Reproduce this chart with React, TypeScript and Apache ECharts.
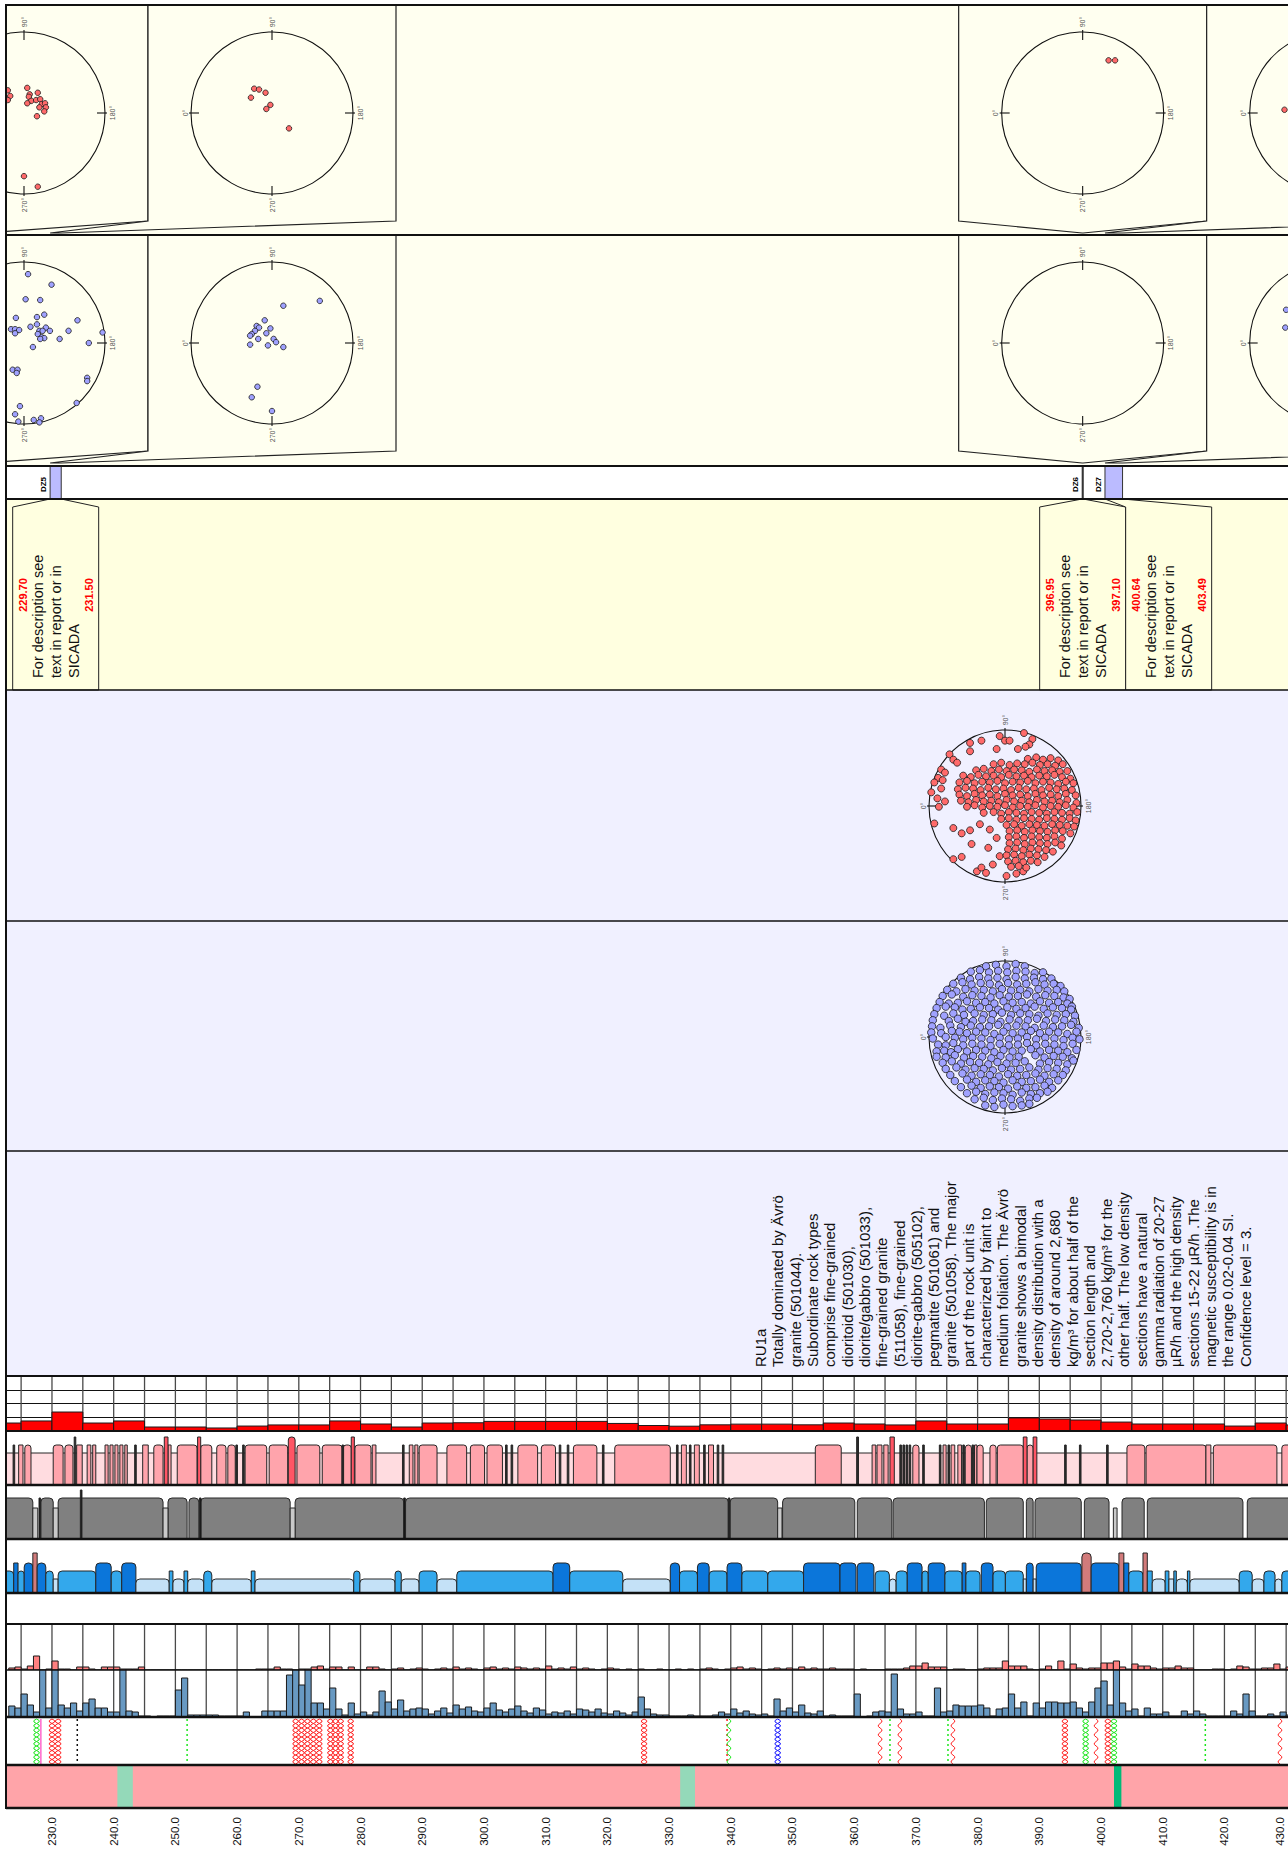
import React, { useEffect, useRef } from "react";
import * as echarts from "echarts";

const FONT = "'Liberation Sans', Arial, Helvetica, sans-serif";

// ---------------- depth axis (visible window) ----------------
const DEPTH_MIN = 222.55;
const DEPTH_MAX = 430.3;
const depthGridLines = [225, 230, 235, 240, 245, 250, 255, 260, 265, 270, 275, 280, 285, 290, 295, 300, 305, 310, 315, 320, 325, 330, 335, 340, 345, 350, 355, 360, 365, 370, 375, 380, 385, 390, 395, 400, 405, 410, 415, 420, 425, 430];
const depthLabels = [230, 240, 250, 260, 270, 280, 290, 300, 310, 320, 330, 340, 350, 360, 370, 380, 390, 400, 410, 420, 430];

// ---------------- deformation zones ----------------
const dzNames = ["DZ4", "DZ5", "DZ6", "DZ7"];
const dzFrom = [218.0, 229.7, 396.95, 400.64];
const dzTo = [219.0, 231.5, 397.1, 403.49];

// poles (normalised stereonet coords: x right, y up)
const dzRedPoles = [
  [[-0.2, 0.28], [-0.17, 0.21], [-0.2, 0.16], [0.04, 0.31], [0.07, 0.23], [0.06, 0.2], [0.09, 0.15], [0.04, 0.12], [0.17, 0.25], [0.15, 0.16], [0.2, 0.17], [0.22, 0.11], [0.26, 0.12], [0.27, 0.07], [0.25, 0.02], [0.19, 0.07], [0.16, -0.04], [0.0, -0.78], [0.17, -0.91], [-0.24, 0.3], [-0.23, 0.19]],
  [[-0.22, 0.3], [-0.16, 0.29], [-0.08, 0.25], [-0.26, 0.19], [-0.02, 0.1], [-0.07, 0.05], [0.21, -0.19]],
  [[0.32, 0.65], [0.4, 0.65]],
  [[-0.57, 0.04]],
];
const dzBluePoles = [
  [[0.05, 0.85], [0.34, 0.72], [0.02, 0.54], [0.2, 0.53], [-0.22, 0.46], [-0.1, 0.31], [0.16, 0.32], [0.25, 0.35], [0.66, 0.28], [-0.16, 0.17], [-0.11, 0.17], [-0.06, 0.16], [-0.11, 0.12], [0.08, 0.2], [0.16, 0.23], [0.27, 0.19], [0.32, 0.15], [0.55, 0.15], [0.97, 0.13], [0.19, 0.15], [0.23, 0.15], [0.17, 0.11], [0.22, 0.07], [0.25, 0.06], [0.2, 0.05], [0.44, 0.05], [0.8, 0.0], [0.11, -0.05], [-0.14, -0.33], [-0.08, -0.33], [-0.09, -0.37], [-0.22, -0.53], [0.78, -0.43], [0.78, -0.47], [0.65, -0.74], [-0.05, -0.78], [-0.11, -0.88], [-0.07, -0.97], [0.12, -0.95], [0.21, -0.93], [0.19, -0.98]],
  [[0.14, 0.46], [0.59, 0.52], [-0.09, 0.28], [-0.19, 0.21], [-0.16, 0.19], [-0.02, 0.18], [-0.21, 0.15], [-0.25, 0.11], [-0.27, 0.09], [-0.07, 0.12], [-0.17, 0.05], [0.02, 0.05], [0.05, 0.01], [-0.27, -0.02], [-0.05, -0.03], [0.14, -0.05], [-0.18, -0.54], [-0.25, -0.67], [0.0, -0.84]],
  [],
  [[-0.55, 0.41], [-0.56, 0.19]],
];

const bigRedPoles = [
  [-0.07, 0.92], [0.0, 0.86], [0.06, 0.86], [0.25, 0.96], [0.36, 0.88], [0.32, 0.81], [-0.31, 0.86], [-0.46, 0.83], [-0.46, 0.72], [-0.11, 0.75], [0.17, 0.75], [0.27, 0.78],
  [-0.73, 0.68], [-0.68, 0.61], [-0.63, 0.57], [-0.84, 0.48], [-0.79, 0.44], [-0.88, 0.37], [-0.82, 0.34], [-0.93, 0.31], [-0.84, 0.23], [-0.97, 0.18], [-0.89, 0.1], [-0.79, 0.06], [-0.87, -0.01], [-0.93, -0.23], [-0.68, -0.29], [-0.57, -0.36], [-0.44, -0.5], [-0.57, -0.67], [-0.68, -0.7], [-0.33, -0.24], [-0.46, -0.32], [-0.2, -0.31], [-0.11, -0.42], [-0.22, -0.55], [-0.37, -0.86], [-0.31, -0.81], [-0.25, -0.88], [-0.16, -0.77], [-0.07, -0.66], [0.02, -0.92], [0.15, -0.89], [0.24, -0.86],
  [0.3, 0.62], [0.41, 0.64], [0.5, 0.61], [0.6, 0.63], [0.7, 0.6],
  [-0.15, 0.55], [-0.05, 0.57], [0.06, 0.54], [0.16, 0.56], [0.26, 0.55], [0.36, 0.57], [0.46, 0.54], [0.56, 0.55], [0.66, 0.53], [0.76, 0.55],
  [-0.38, 0.47], [-0.28, 0.49], [-0.18, 0.46], [-0.08, 0.48], [0.02, 0.46], [0.12, 0.48], [0.22, 0.47], [0.32, 0.45], [0.42, 0.48], [0.52, 0.46], [0.62, 0.47], [0.72, 0.45], [0.82, 0.46],
  [-0.55, 0.4], [-0.45, 0.38], [-0.35, 0.41], [-0.25, 0.39], [-0.15, 0.4], [-0.05, 0.38], [0.05, 0.41], [0.15, 0.39], [0.25, 0.4], [0.35, 0.38], [0.45, 0.4], [0.55, 0.39], [0.65, 0.41], [0.75, 0.38], [0.86, 0.36],
  [-0.6, 0.31], [-0.5, 0.33], [-0.4, 0.3], [-0.3, 0.32], [-0.2, 0.31], [-0.1, 0.33], [0.0, 0.3], [0.1, 0.32], [0.2, 0.31], [0.3, 0.33], [0.4, 0.3], [0.5, 0.32], [0.6, 0.31], [0.7, 0.29], [0.8, 0.32], [0.9, 0.3],
  [-0.62, 0.22], [-0.52, 0.24], [-0.42, 0.23], [-0.32, 0.21], [-0.22, 0.24], [-0.12, 0.22], [-0.02, 0.23], [0.08, 0.21], [0.18, 0.24], [0.28, 0.22], [0.38, 0.23], [0.48, 0.21], [0.58, 0.24], [0.68, 0.22], [0.78, 0.23], [0.88, 0.21],
  [-0.6, 0.15], [-0.5, 0.13], [-0.4, 0.16], [-0.3, 0.14], [-0.2, 0.15], [-0.1, 0.13], [0.0, 0.16], [0.1, 0.14], [0.2, 0.15], [0.3, 0.13], [0.4, 0.16], [0.5, 0.14], [0.6, 0.15], [0.7, 0.13], [0.8, 0.16], [0.93, 0.14],
  [-0.58, 0.07], [-0.48, 0.05], [-0.38, 0.08], [-0.28, 0.06], [-0.18, 0.07], [-0.08, 0.05], [0.02, 0.08], [0.12, 0.06], [0.22, 0.07], [0.32, 0.05], [0.42, 0.08], [0.52, 0.06], [0.62, 0.07], [0.72, 0.05], [0.82, 0.08], [0.94, 0.04],
  [-0.5, -0.01], [-0.4, 0.01], [-0.3, -0.02], [-0.2, 0.0], [-0.1, -0.01], [0.0, 0.01], [0.1, -0.02], [0.2, 0.0], [0.3, -0.01], [0.4, 0.01], [0.5, -0.02], [0.6, 0.0], [0.7, -0.01], [0.8, 0.01], [0.9, -0.02],
  [-0.28, -0.09], [-0.15, -0.08], [-0.05, -0.1], [0.05, -0.08], [0.15, -0.09], [0.25, -0.1], [0.35, -0.08], [0.45, -0.09], [0.55, -0.1], [0.65, -0.08], [0.75, -0.09], [0.85, -0.1], [0.95, -0.08],
  [-0.05, -0.17], [0.05, -0.16], [0.15, -0.18], [0.25, -0.16], [0.35, -0.17], [0.45, -0.18], [0.55, -0.16], [0.65, -0.17], [0.75, -0.18], [0.85, -0.16], [0.93, -0.19],
  [0.02, -0.25], [0.12, -0.24], [0.22, -0.26], [0.32, -0.24], [0.42, -0.25], [0.52, -0.26], [0.62, -0.24], [0.72, -0.25], [0.82, -0.26], [0.91, -0.27],
  [0.06, -0.33], [0.16, -0.32], [0.26, -0.34], [0.36, -0.32], [0.46, -0.33], [0.56, -0.34], [0.66, -0.32], [0.76, -0.33], [0.86, -0.36],
  [0.05, -0.41], [0.15, -0.4], [0.25, -0.42], [0.35, -0.4], [0.45, -0.41], [0.55, -0.42], [0.65, -0.4], [0.75, -0.43],
  [0.06, -0.49], [0.16, -0.48], [0.26, -0.5], [0.36, -0.48], [0.46, -0.49], [0.56, -0.5], [0.66, -0.48], [0.74, -0.52],
  [0.04, -0.57], [0.14, -0.56], [0.24, -0.58], [0.34, -0.56], [0.44, -0.57], [0.54, -0.58], [0.63, -0.6],
  [0.02, -0.65], [0.12, -0.64], [0.22, -0.66], [0.32, -0.64], [0.42, -0.65], [0.52, -0.67],
  [0.04, -0.73], [0.14, -0.72], [0.24, -0.74], [0.34, -0.72], [0.43, -0.74],
  [0.08, -0.8], [0.18, -0.79], [0.28, -0.81],
];

const bigBluePoles = [
  [-0.25, 0.93], [-0.12, 0.95], [0.02, 0.93], [0.14, 0.96], [0.26, 0.93],
  [-0.45, 0.86], [-0.33, 0.88], [-0.21, 0.85], [-0.09, 0.87], [0.03, 0.85], [0.15, 0.87], [0.27, 0.86], [0.39, 0.84], [0.5, 0.85],
  [-0.58, 0.78], [-0.46, 0.76], [-0.34, 0.79], [-0.22, 0.77], [-0.1, 0.78], [0.02, 0.76], [0.14, 0.79], [0.26, 0.77], [0.38, 0.78], [0.5, 0.76], [0.61, 0.77],
  [-0.68, 0.7], [-0.56, 0.72], [-0.44, 0.69], [-0.32, 0.71], [-0.2, 0.7], [-0.08, 0.68], [0.04, 0.71], [0.16, 0.69], [0.28, 0.7], [0.4, 0.72], [0.52, 0.69], [0.64, 0.7], [0.73, 0.67],
  [-0.76, 0.62], [-0.64, 0.6], [-0.52, 0.63], [-0.4, 0.61], [-0.28, 0.62], [-0.16, 0.6], [-0.04, 0.63], [0.08, 0.61], [0.2, 0.62], [0.32, 0.6], [0.44, 0.63], [0.56, 0.61], [0.68, 0.62], [0.78, 0.6],
  [-0.82, 0.54], [-0.7, 0.56], [-0.55, 0.53], [-0.43, 0.55], [-0.31, 0.54], [-0.19, 0.52], [-0.07, 0.55], [0.05, 0.53], [0.17, 0.54], [0.29, 0.56], [0.41, 0.53], [0.53, 0.55], [0.65, 0.54], [0.77, 0.52], [0.85, 0.5],
  [-0.86, 0.46], [-0.74, 0.44], [-0.62, 0.45], [-0.5, 0.47], [-0.38, 0.45], [-0.26, 0.46], [-0.14, 0.44], [-0.02, 0.47], [0.1, 0.45], [0.22, 0.46], [0.34, 0.44], [0.46, 0.47], [0.58, 0.45], [0.7, 0.46], [0.82, 0.44], [0.88, 0.4],
  [-0.9, 0.38], [-0.78, 0.4], [-0.66, 0.39], [-0.56, 0.36], [-0.45, 0.37], [-0.33, 0.39], [-0.21, 0.38], [-0.09, 0.36], [0.03, 0.39], [0.15, 0.37], [0.27, 0.38], [0.39, 0.4], [0.51, 0.37], [0.63, 0.39], [0.75, 0.38], [0.87, 0.36],
  [-0.93, 0.3], [-0.8, 0.28], [-0.68, 0.31], [-0.54, 0.29], [-0.4, 0.31], [-0.28, 0.29], [-0.16, 0.3], [-0.04, 0.32], [0.08, 0.29], [0.2, 0.31], [0.32, 0.3], [0.44, 0.28], [0.56, 0.31], [0.68, 0.29], [0.8, 0.3], [0.92, 0.28],
  [-0.95, 0.22], [-0.74, 0.21], [-0.62, 0.24], [-0.52, 0.2], [-0.42, 0.21], [-0.3, 0.23], [-0.18, 0.22], [-0.06, 0.2], [0.06, 0.23], [0.18, 0.21], [0.3, 0.22], [0.42, 0.24], [0.54, 0.21], [0.66, 0.23], [0.78, 0.22], [0.9, 0.2],
  [-0.96, 0.14], [-0.85, 0.12], [-0.72, 0.15], [-0.58, 0.13], [-0.45, 0.15], [-0.33, 0.13], [-0.21, 0.14], [-0.09, 0.16], [0.03, 0.13], [0.15, 0.15], [0.27, 0.14], [0.39, 0.12], [0.51, 0.15], [0.63, 0.13], [0.75, 0.14], [0.87, 0.16], [0.97, 0.12],
  [-0.97, 0.06], [-0.84, 0.05], [-0.7, 0.08], [-0.6, 0.07], [-0.5, 0.05], [-0.38, 0.07], [-0.26, 0.06], [-0.14, 0.04], [-0.02, 0.07], [0.1, 0.05], [0.22, 0.06], [0.34, 0.08], [0.46, 0.05], [0.58, 0.07], [0.7, 0.06], [0.82, 0.04], [0.94, 0.07],
  [-0.95, -0.02], [-0.78, 0.0], [-0.66, -0.01], [-0.55, -0.03], [-0.43, -0.01], [-0.31, -0.02], [-0.19, -0.04], [-0.07, -0.01], [0.05, -0.03], [0.17, -0.02], [0.29, 0.0], [0.41, -0.03], [0.53, -0.01], [0.65, -0.02], [0.77, -0.04], [0.89, -0.01], [0.98, -0.03],
  [-0.88, -0.1], [-0.78, -0.11], [-0.68, -0.08], [-0.55, -0.11], [-0.43, -0.09], [-0.31, -0.1], [-0.19, -0.12], [-0.07, -0.09], [0.05, -0.11], [0.17, -0.1], [0.29, -0.08], [0.41, -0.11], [0.53, -0.09], [0.65, -0.1], [0.77, -0.12], [0.89, -0.09],
  [-0.9, -0.19], [-0.8, -0.18], [-0.71, -0.2], [-0.62, -0.16], [-0.5, -0.19], [-0.38, -0.17], [-0.26, -0.18], [-0.14, -0.2], [-0.02, -0.17], [0.1, -0.19], [0.22, -0.18], [0.34, -0.16], [0.46, -0.19], [0.58, -0.17], [0.7, -0.18], [0.82, -0.2], [0.94, -0.17],
  [-0.9, -0.26], [-0.78, -0.27], [-0.66, -0.24], [-0.54, -0.27], [-0.42, -0.25], [-0.3, -0.26], [-0.18, -0.28], [-0.06, -0.25], [0.06, -0.27], [0.18, -0.26], [0.4, -0.24], [0.52, -0.27], [0.64, -0.25], [0.76, -0.26], [0.88, -0.28],
  [-0.82, -0.34], [-0.7, -0.32], [-0.58, -0.35], [-0.46, -0.33], [-0.34, -0.34], [-0.22, -0.36], [-0.1, -0.33], [0.02, -0.35], [0.14, -0.34], [0.26, -0.32], [0.46, -0.35], [0.58, -0.33], [0.7, -0.34], [0.82, -0.36], [0.9, -0.31],
  [-0.78, -0.42], [-0.64, -0.4], [-0.52, -0.43], [-0.4, -0.41], [-0.28, -0.42], [-0.16, -0.44], [-0.04, -0.41], [0.08, -0.43], [0.2, -0.42], [0.32, -0.4], [0.44, -0.43], [0.56, -0.41], [0.68, -0.42], [0.8, -0.44],
  [-0.72, -0.5], [-0.56, -0.48], [-0.44, -0.51], [-0.32, -0.49], [-0.2, -0.5], [-0.08, -0.52], [0.04, -0.49], [0.16, -0.51], [0.28, -0.5], [0.4, -0.48], [0.52, -0.51], [0.64, -0.49], [0.76, -0.5],
  [-0.66, -0.58], [-0.5, -0.56], [-0.38, -0.59], [-0.26, -0.57], [-0.14, -0.58], [-0.02, -0.6], [0.1, -0.57], [0.22, -0.59], [0.34, -0.58], [0.46, -0.56], [0.58, -0.59], [0.7, -0.57],
  [-0.58, -0.66], [-0.44, -0.64], [-0.32, -0.67], [-0.2, -0.65], [-0.08, -0.66], [0.04, -0.68], [0.16, -0.65], [0.28, -0.67], [0.4, -0.66], [0.52, -0.64], [0.62, -0.67],
  [-0.5, -0.74], [-0.38, -0.72], [-0.26, -0.75], [-0.14, -0.73], [-0.02, -0.74], [0.1, -0.76], [0.22, -0.73], [0.34, -0.75], [0.46, -0.74], [0.56, -0.72],
  [-0.4, -0.82], [-0.28, -0.8], [-0.16, -0.83], [-0.04, -0.81], [0.08, -0.82], [0.2, -0.84], [0.32, -0.81], [0.42, -0.8],
  [-0.26, -0.9], [-0.14, -0.92], [-0.02, -0.89], [0.1, -0.91], [0.22, -0.9], [0.32, -0.88],
];

// ---------------- texts ----------------
const descLines = ["For description see", "text in report or in", "SICADA"];
const ruLines = [
  "RU1a",
  "Totally dominated by Ävrö",
  "granite (501044).",
  "Subordinate rock types",
  "comprise fine-grained",
  "dioritoid (501030),",
  "diorite/gabbro (501033),",
  "fine-grained granite",
  "(511058), fine-grained",
  "diorite-gabbro (505102),",
  "pegmatite (501061) and",
  "granite (501058). The major",
  "part of the rock unit is",
  "characterized by faint to",
  "medium foliation. The Ävrö",
  "granite shows a bimodal",
  "density distribution with a",
  "density of around 2,680",
  "kg/m³ for about half of the",
  "section length and",
  "2,720-2,760 kg/m³ for the",
  "other half. The low density",
  "sections have a natural",
  "gamma radiation of 20-27",
  "µR/h and the high density",
  "sections 15-22 µR/h .The",
  "magnetic susceptibility is in",
  "the range 0.02-0.04 SI.",
  "Confidence level = 3.",
];
const stereoLabels = ["0°", "90°", "180°", "270°"];

// ---------------- 5 m fracture frequency ----------------
const frac5Start = 220;
const frac5Step = 5;
const frac5Values = [
  0.58, 0.73, 1.38, 0.58, 0.73, 0.29, 0.29, 0.22, 0.36, 0.44, 0.44, 0.73, 0.51, 0.29, 0.58,
  0.6, 0.7, 0.7, 0.7, 0.7, 0.55, 0.4, 0.35, 0.45, 0.5, 0.5, 0.45,
  0.58, 0.51, 0.44, 0.73, 0.51, 0.51, 0.95, 0.87, 0.8, 0.65, 0.51, 0.51, 0.51, 0.36, 0.58, 0.44,
];

// ---------------- 1 m fracture histograms (from 223 m) ----------------
const histStart = 223;
const openFractures = [
  2, 3, 1, 4, 14, 0, 1, 9, 1, 1,
  0, 3, 3, 1, 0, 3, 3, 3, 1, 1,
  1, 3, 0, 0, 0, 0, 0, 0, 0, 0,
  0, 0, 0, 0, 0, 0, 0, 0, 0, 0,
  1, 1, 1, 3, 1, 1, 0, 1, 1, 3,
  4, 1, 3, 3, 0, 3, 0, 0, 3, 3,
  1, 0, 1, 2, 0, 1, 2, 1, 0, 1,
  2, 1, 3, 1, 2, 1, 0, 2, 3, 1,
  2, 1, 3, 2, 1, 2, 1, 4, 1, 2,
  1, 3, 1, 2, 1, 0, 1, 2, 1, 0,
  1, 0, 1, 0, 0, 1, 0, 0, 1, 0,
  1, 0, 1, 2, 1, 0, 1, 2, 3, 1,
  2, 1, 0, 1, 2, 1, 2, 1, 3, 1,
  2, 1, 1, 2, 1, 1, 1, 0, 1, 0,
  0, 0, 1, 1, 1, 2, 4, 4, 7, 3,
  3, 3, 0, 1, 1, 0, 0, 1, 2, 2,
  2, 9, 4, 4, 4, 1, 0, 1, 4, 0,
  9, 1, 6, 2, 1, 2, 2, 7, 7, 9,
  3, 1, 6, 4, 4, 2, 1, 2, 2, 4,
  2, 2, 0, 0, 0, 1, 1, 0, 1, 4,
  3, 1, 1, 2, 2, 6, 1, 3,
];
const sealedFractures = [
  11, 9, 23, 12, 5, 50, 9, 50, 12, 9,
  14, 6, 14, 18, 9, 9, 5, 5, 50, 6,
  5, 1, 1, 0, 1, 1, 1, 27, 39, 2,
  2, 2, 2, 2, 1, 1, 1, 1, 5, 0,
  0, 6, 6, 6, 6, 42, 50, 32, 50, 14,
  14, 8, 29, 8, 2, 14, 3, 5, 2, 5,
  26, 15, 8, 17, 6, 8, 9, 8, 3, 6,
  9, 4, 12, 8, 10, 6, 5, 9, 14, 7,
  5, 8, 11, 6, 4, 9, 7, 3, 5, 4,
  6, 3, 8, 7, 5, 8, 4, 3, 6, 4,
  2, 5, 20, 8, 3, 2, 2, 1, 1, 1,
  2, 1, 1, 1, 2, 5, 3, 8, 4, 6,
  3, 2, 3, 1, 18, 6, 9, 5, 12, 4,
  3, 6, 1, 2, 1, 1, 1, 23, 0, 1,
  5, 6, 5, 43, 8, 3, 3, 5, 1, 1,
  29, 5, 6, 12, 11, 11, 11, 12, 9, 1,
  8, 9, 23, 9, 15, 1, 14, 9, 15, 15,
  14, 14, 15, 9, 5, 15, 29, 36, 12, 50,
  14, 6, 8, 1, 9, 3, 3, 5, 1, 1,
  6, 3, 6, 3, 1, 1, 1, 1, 6, 3,
  23, 6, 1, 1, 3, 1, 5, 2,
];

// ---------------- interval tracks [from, to, class] ----------------
// rock types: 1 fine-grained, 2 pegmatite, 3 tall thin, 4 thin
const rockTypeIntervals = [
  [223.7, 223.9, 4], [224.6, 225.3, 1], [225.6, 226.6, 1],
  [230.2, 231.8, 1], [232.1, 233.4, 1], [233.6, 233.8, 3], [234.0, 234.9, 1], [235.7, 236.3, 1], [236.6, 237.1, 1], [238.6, 239.1, 1], [239.4, 239.9, 1], [240.2, 240.7, 1], [241.0, 241.5, 1], [241.8, 242.2, 1], [243.4, 243.6, 4], [244.7, 245.6, 1], [246.5, 248.0, 1], [248.2, 248.8, 2], [248.8, 249.3, 1], [250.3, 253.5, 1], [253.6, 254.1, 2], [254.1, 255.9, 1], [256.7, 258.2, 1], [258.5, 259.7, 1], [259.8, 260.0, 4], [260.9, 261.1, 4], [261.3, 264.8, 1], [265.2, 268.2, 1], [268.3, 269.4, 2], [269.7, 273.4, 1], [273.8, 277.0, 1], [277.0, 277.2, 4], [277.2, 278.5, 1], [278.5, 279.0, 2], [279.1, 281.7, 1], [281.9, 282.5, 1], [286.8, 287.0, 4], [287.9, 288.5, 1], [288.8, 289.3, 1], [289.5, 292.4, 1],
  [294.0, 297.2, 1], [297.8, 300.1, 1], [300.5, 303.0, 1], [303.5, 303.7, 4], [304.4, 304.6, 4], [305.5, 308.7, 1], [309.3, 311.6, 1], [312.2, 312.4, 4], [313.5, 313.7, 4], [314.5, 318.3, 1], [319.2, 319.4, 4], [321.2, 330.2, 1], [331.2, 331.4, 4], [332.0, 332.8, 1], [333.3, 333.5, 4], [334.1, 334.9, 1], [335.6, 335.8, 4], [336.4, 337.2, 1], [337.8, 338.0, 4], [338.6, 338.8, 4], [353.7, 357.9, 1],
  [360.4, 360.7, 3], [362.9, 363.5, 1], [363.7, 364.5, 1], [364.8, 365.5, 1], [365.8, 366.5, 2], [367.4, 367.6, 4], [367.9, 368.1, 4], [368.4, 368.6, 4], [368.9, 369.1, 4], [369.5, 370.5, 1], [371.1, 371.3, 4], [373.8, 374.0, 4], [374.4, 374.9, 1], [375.2, 375.4, 4], [375.7, 376.3, 1], [376.8, 377.4, 1], [377.6, 377.8, 4], [378.0, 379.0, 1], [379.1, 379.3, 4], [379.5, 379.9, 1], [379.9, 380.9, 1], [382.0, 383.0, 1], [383.2, 387.4, 1], [387.4, 388.0, 2], [388.0, 389.0, 1], [389.0, 389.6, 2], [394.1, 394.3, 4], [396.5, 396.7, 4], [400.9, 401.1, 4], [404.2, 407.1, 1], [407.3, 417.0, 1], [417.0, 417.8, 1], [418.2, 428.5, 1], [429.3, 436.0, 1],
];
// alteration: 1 gray, 2 light gray, 3 line, 4 tall line
const alterationIntervals = [
  [220, 226.9, 1], [226.9, 227.7, 2], [227.9, 228.1, 3], [228.2, 230.2, 1], [230.2, 231.0, 2], [231.0, 248.0, 1], [234.6, 234.8, 4], [248.0, 248.8, 2], [248.8, 251.9, 1], [252.2, 253.8, 1], [253.9, 254.0, 3], [254.1, 268.6, 1], [268.6, 269.4, 2], [269.4, 287.0, 1], [287.0, 287.2, 3], [287.3, 339.6, 1], [339.6, 339.8, 3], [339.9, 347.6, 1], [347.6, 348.3, 2], [348.4, 360.1, 1], [360.5, 366.1, 1], [366.3, 381.1, 1], [381.4, 387.4, 1], [387.9, 389.0, 1], [389.3, 396.8, 1], [397.3, 401.3, 1], [402.0, 402.6, 2], [403.4, 407.0, 1], [407.5, 423.0, 1], [423.7, 436.0, 1],
];
// oxidation / blue track: 1 light, 2 medium, 3 dark, 4 red
const blueIntervals = [
  [220, 223.8, 2], [223.8, 224.5, 3], [224.5, 225.5, 2], [225.5, 226.9, 3], [226.9, 227.6, 4], [227.6, 229.0, 3], [229.0, 230.2, 2], [230.2, 231.0, 1], [231.0, 237.1, 2], [237.1, 239.6, 3], [239.6, 241.3, 2], [241.3, 243.6, 3], [243.6, 249.0, 1], [249.0, 249.6, 2], [249.6, 251.4, 1], [251.4, 252.0, 2], [252.0, 254.6, 1], [254.6, 255.9, 2], [255.9, 262.3, 1], [262.3, 262.9, 2], [262.9, 278.9, 1], [278.9, 279.9, 2], [279.9, 285.6, 1], [285.6, 286.6, 2], [286.6, 289.5, 1], [289.5, 292.4, 2],
  [292.4, 295.6, 1], [295.6, 311.2, 2], [311.2, 313.9, 3], [313.9, 322.5, 2], [322.5, 330.2, 1], [330.2, 331.7, 3], [331.7, 334.6, 2], [334.6, 336.5, 3], [336.5, 339.4, 2], [339.4, 341.8, 3], [341.8, 346.0, 2], [346.0, 351.8, 2], [351.8, 357.7, 3],
  [357.7, 360.3, 3], [360.5, 363.2, 3], [363.4, 365.7, 2], [365.7, 366.8, 1], [366.8, 368.6, 2], [368.6, 371.0, 3], [371.0, 372.0, 2], [372.0, 374.7, 3], [374.7, 377.5, 2], [377.5, 378.1, 3], [378.1, 380.4, 2], [380.6, 382.5, 3], [382.5, 384.5, 2], [384.5, 387.4, 2], [387.4, 387.9, 1], [387.9, 389.0, 3], [389.0, 389.5, 1], [389.5, 396.8, 3], [396.9, 398.4, 4], [398.4, 402.9, 3], [402.9, 403.7, 4], [403.7, 404.5, 3], [404.5, 406.8, 2], [406.8, 407.5, 4], [407.5, 408.3, 2], [408.3, 410.4, 1], [410.4, 411.0, 2], [411.0, 411.8, 1], [411.8, 412.2, 2], [412.2, 414.0, 1], [414.0, 414.4, 2], [414.4, 422.4, 1], [422.4, 424.5, 2], [424.5, 426.4, 1], [426.4, 428.2, 2], [428.2, 429.3, 1], [429.3, 436.0, 2],
];
// structures: 0 red cross, 1 green cross, 2 blue cross, 3 red wave, 4 green wave, 5 green dotted, 6 black dotted, 7 pink line, 8 red dotted
const structureIntervals = [
  [227.0, 228.0, 1], [228.2, 228.2, 7], [229.5, 231.5, 0], [234.1, 234.1, 6], [251.9, 251.9, 5], [269.0, 273.8, 0], [274.7, 277.2, 0], [278.0, 278.8, 0], [325.3, 326.6, 0], [339.4, 339.4, 8], [339.7, 339.7, 4], [347.2, 348.0, 2], [364.2, 364.2, 3], [365.8, 365.8, 5], [367.4, 367.4, 3], [375.2, 375.2, 5], [376.0, 376.0, 3], [393.5, 394.8, 0], [397.1, 397.9, 1], [399.2, 399.2, 3], [400.4, 401.8, 0], [401.8, 402.4, 1], [416.9, 416.9, 5], [429.0, 429.0, 3],
];
// rock units: 0 RU1a, 1 minor unit, 2 DZ unit
const rockUnitIntervals = [
  [220, 436, 0], [240.6, 243.1, 1], [331.8, 334.2, 1], [402.1, 403.3, 2],
];

// ---------------- layout ----------------
const PAGE_W = 1288;
const FRAME_X = 6;
const PX_LEFT = 6;
const PX_WIDTH = 1282;
const ROW_TOPS = [5, 235];
const STEREO_BOX_W = 248;
const STEREO_BOX_START = -100;
const STEREO_R = 81;
const DESC_BOX_W = 86;
const BIG_CX = 1005;
const BIG_R = 76;
const BIG_CY = [806, 1037];

function buildOption(px: any) {
  const grid: any[] = [];
  const xAxis: any[] = [];
  const yAxis: any[] = [];
  const series: any[] = [];
  const graphic: any[] = [];

  const addGrid = (g: any, xa: any, ya: any) => {
    grid.push(g);
    const gi = grid.length - 1;
    xAxis.push({ ...xa, gridIndex: gi });
    yAxis.push({ ...ya, gridIndex: gi });
    return gi;
  };
  const hiddenDepth = { type: "value", min: DEPTH_MIN, max: DEPTH_MAX, show: false };
  const depthGrid = (top: number, height: number, ya: any) =>
    addGrid({ left: PX_LEFT, width: PX_WIDTH, top, height }, hiddenDepth, ya);

  const gFrac5 = depthGrid(1376, 55, {
    type: "value", min: 0, max: 4, interval: 1, show: true,
    axisLine: { show: false }, axisTick: { show: false }, axisLabel: { show: false },
    splitLine: { show: true, lineStyle: { color: "#111", width: 1 } },
  });
  const gDz = depthGrid(466, 33, { type: "value", min: 0, max: 1, show: false });
  const gDesc = depthGrid(499, 191, { type: "value", min: 0, max: 1, show: false });
  const gRock = depthGrid(1431, 54, { type: "value", min: 0, max: 54, show: false });
  const gAlt = depthGrid(1485, 54, { type: "value", min: 0, max: 54, show: false });
  const gBlue = depthGrid(1539, 54, { type: "value", min: 0, max: 54, show: false });
  const gHistR = depthGrid(1624, 46, { type: "value", min: 0, max: 46, show: false });
  const gHistB = depthGrid(1670, 47, { type: "value", min: 0, max: 47, show: false });
  const gStruct = depthGrid(1717, 48, { type: "value", min: 0, max: 1, show: false });
  const gUnit = depthGrid(1765, 43, { type: "value", min: 0, max: 1, show: false });

  const ax = (gi: number) => ({ xAxisIndex: gi, yAxisIndex: gi });

  // vertical 5 m grid lines
  const gridLineSeries = (gi: number) => ({
    type: "custom", ...ax(gi), clip: true, z: 1,
    data: depthGridLines.map((d) => [d, 0]),
    renderItem: (params: any, api: any) => {
      const cs = params.coordSys;
      const x = api.coord([api.value(0), 0])[0];
      return { type: "line", shape: { x1: x, y1: cs.y, x2: x, y2: cs.y + cs.height }, style: { stroke: "#4a4a4a", lineWidth: 1.3 } };
    },
  });
  series.push(gridLineSeries(gFrac5), gridLineSeries(gHistR), gridLineSeries(gHistB));

  // ---- binned bars ----
  const binRenderer = (width: number, fill: string) => (params: any, api: any) => {
    const a = api.coord([api.value(0), 0]);
    const b = api.coord([api.value(0) + width, api.value(1)]);
    return {
      type: "rect",
      shape: { x: a[0], y: b[1], width: b[0] - a[0], height: a[1] - b[1] },
      style: { fill, stroke: "#1a1a1a", lineWidth: 1 },
    };
  };
  series.push({
    type: "custom", ...ax(gFrac5), clip: true, z: 2,
    data: frac5Values.map((v, i) => [frac5Start + i * frac5Step, v]),
    renderItem: binRenderer(frac5Step, "#FF0000"),
  });
  series.push({
    type: "custom", ...ax(gHistR), clip: true, z: 2,
    data: openFractures.map((v, i) => [histStart + i, v]),
    renderItem: binRenderer(1, "#FF8080"),
  });
  series.push({
    type: "custom", ...ax(gHistB), clip: true, z: 2,
    data: sealedFractures.map((v, i) => [histStart + i, v]),
    renderItem: binRenderer(1, "#6899C2"),
  });

  // ---- interval tracks ----
  const intervalRenderer = (levels: number[], fills: string[], radius: number) => (params: any, api: any) => {
    const k = api.value(2);
    const a = api.coord([api.value(0), 0]);
    const b = api.coord([api.value(1), levels[k]]);
    const w = Math.max(b[0] - a[0], 1.6);
    const thin = w < 6;
    return {
      type: "rect",
      shape: { x: a[0], y: b[1], width: w, height: a[1] - b[1], r: thin ? 0 : [radius, radius, 0, 0] },
      style: { fill: fills[k], stroke: "#262626", lineWidth: 1 },
    };
  };
  const byClass = (arr: number[][], order: number[]) =>
    arr.slice().sort((p, q) => order.indexOf(p[2]) - order.indexOf(q[2]));

  series.push({
    type: "custom", ...ax(gRock), clip: true,
    data: [[DEPTH_MIN - 1, DEPTH_MAX + 1, 0], ...byClass(rockTypeIntervals, [1, 2, 4, 3])],
    renderItem: intervalRenderer([32, 40, 48, 48, 40], ["#FFDCE0", "#FFA4AC", "#FF5565", "#2a2a2a", "#2a2a2a"], 3),
  });
  series.push({
    type: "custom", ...ax(gAlt), clip: true,
    data: byClass(alterationIntervals, [1, 2, 3, 4]),
    renderItem: intervalRenderer([0, 41, 31, 41, 49], ["#fff", "#808080", "#C9C9C9", "#111", "#111"], 4),
  });
  series.push({
    type: "custom", ...ax(gBlue), clip: true,
    data: blueIntervals,
    renderItem: intervalRenderer([0, 14, 22, 30, 40], ["#fff", "#C4E1F7", "#33A8EC", "#0B76DA", "#D27B7B"], 4),
  });
  series.push({
    type: "custom", ...ax(gUnit), clip: true,
    data: rockUnitIntervals,
    renderItem: (params: any, api: any) => {
      const cs = params.coordSys;
      const a = api.coord([api.value(0), 0]);
      const b = api.coord([api.value(1), 0]);
      const fills = ["#FFA4A9", "#94D9B9", "#00BA78"];
      return { type: "rect", shape: { x: a[0], y: cs.y, width: b[0] - a[0], height: cs.height }, style: { fill: fills[api.value(2)] } };
    },
  });
  // depth labels under the bottom track
  series.push({
    type: "custom", ...ax(gUnit), clip: false, z: 5,
    data: depthLabels.map((d) => [d, 0]),
    renderItem: (params: any, api: any) => {
      const cs = params.coordSys;
      const x = Math.min(api.coord([api.value(0), 0])[0], PAGE_W - 8);
      return {
        type: "text", x, y: cs.y + cs.height + 9, rotation: Math.PI / 2,
        style: { text: api.value(0).toFixed(1), fontSize: 11.5, fontFamily: FONT, fill: "#111", align: "right", verticalAlign: "middle", textAlign: "right", textVerticalAlign: "middle" },
      };
    },
  });

  // ---- structures ----
  const SC = ["#FF2020", "#1EE61E", "#1A1AFF", "#FF2020", "#1EE61E", "#1EE61E", "#111111", "#FF66CC", "#FF2020"];
  series.push({
    type: "custom", ...ax(gStruct), clip: true,
    data: structureIntervals,
    renderItem: (params: any, api: any) => {
      const cs = params.coordSys;
      const t = api.value(2);
      const a = api.coord([api.value(0), 0]);
      const b = api.coord([api.value(1), 0]);
      const top = cs.y + 2, bot = cs.y + cs.height - 1;
      const color = SC[t];
      const wave = (cx: number, amp: number, phase: number) => {
        const pts: number[][] = [];
        for (let y = top; y <= bot; y += 1.5) pts.push([cx + amp * Math.sin(((y - top) / 9) * 2 * Math.PI + phase), y]);
        return { type: "polyline", shape: { points: pts }, style: { stroke: color, lineWidth: 1, fill: "none" } };
      };
      const children: any[] = [];
      if (t <= 2) {
        const w = b[0] - a[0];
        const n = Math.max(1, Math.round(w / 6));
        for (let k = 0; k < n; k++) {
          const cx = a[0] + (k + 0.5) * (w / n);
          children.push(wave(cx, 3, 0), wave(cx, 3, Math.PI));
        }
      } else if (t === 3 || t === 4) {
        children.push(wave(a[0], 2, 0));
      } else if (t === 7) {
        children.push({ type: "line", shape: { x1: a[0], y1: top, x2: a[0], y2: bot }, style: { stroke: color, lineWidth: 1.5 } });
      } else {
        children.push({ type: "line", shape: { x1: a[0], y1: top, x2: a[0], y2: bot }, style: { stroke: color, lineWidth: 1.5, lineDash: [2, 3] } });
      }
      return { type: "group", children };
    },
  });

  // ---- DZ strip ----
  const vis = dzNames.map((_, i) => i).filter((i) => dzTo[i] > DEPTH_MIN);
  series.push({
    type: "custom", ...ax(gDz), clip: false,
    data: vis.map((i) => [dzFrom[i], dzTo[i], i]),
    renderItem: (params: any, api: any) => {
      const cs = params.coordSys;
      const i = api.value(2);
      const a = api.coord([api.value(0), 0]);
      const b = api.coord([api.value(1), 0]);
      const w = Math.max(b[0] - a[0], 1);
      return {
        type: "group",
        children: [
          { type: "rect", shape: { x: a[0], y: cs.y, width: w, height: cs.height }, style: { fill: w > 3 ? "#BBBBFF" : "#111", stroke: "#333", lineWidth: 1 } },
          {
            type: "text", x: a[0] - 6.5, y: cs.y + cs.height / 2 + 2, rotation: Math.PI / 2,
            style: { text: dzNames[i], fontSize: 8, fontWeight: "bold", fontFamily: FONT, fill: "#000", align: "center", verticalAlign: "middle", textAlign: "center", textVerticalAlign: "middle" },
          },
        ],
      };
    },
  });

  // ---- description boxes ----
  series.push({
    type: "custom", ...ax(gDesc), clip: false,
    data: vis.map((i) => [dzFrom[i], dzTo[i], i]),
    renderItem: (params: any, api: any) => {
      const cs = params.coordSys;
      let prev = -Infinity;
      let mine: any = null;
      vis.forEach((i, k) => {
        const x0 = api.coord([dzFrom[i], 0])[0];
        const x1 = api.coord([dzTo[i], 0])[0];
        let L = (x0 + x1) / 2 - DESC_BOX_W / 2;
        if (L < prev) L = prev;
        prev = L + DESC_BOX_W;
        if (k === params.dataIndex) mine = { L, x0, x1, i };
      });
      const { L, x0, x1, i } = mine;
      const R = L + DESC_BOX_W;
      const top = cs.y, bot = cs.y + cs.height;
      const redStyle = (text: string) => ({ text, fontSize: 11, fontWeight: "bold", fontFamily: FONT, fill: "#FF0000", align: "center", verticalAlign: "middle", textAlign: "center", textVerticalAlign: "middle" });
      return {
        type: "group",
        children: [
          { type: "polygon", shape: { points: [[L, bot], [L, top + 8], [x0, top], [x1, top], [R, top + 8], [R, bot]] }, style: { fill: "#FFFFE0", stroke: "#222", lineWidth: 1 } },
          { type: "text", x: L + 10, y: top + 96, rotation: Math.PI / 2, style: redStyle(dzFrom[i].toFixed(2)) },
          { type: "text", x: R - 10, y: top + 96, rotation: Math.PI / 2, style: redStyle(dzTo[i].toFixed(2)) },
          {
            type: "text", x: L + 16, y: top + 179, rotation: Math.PI / 2,
            style: { text: descLines.join("\n"), fontSize: 14.5, lineHeight: 18, fontFamily: FONT, fill: "#111", align: "left", verticalAlign: "top", textAlign: "left", textVerticalAlign: "top" },
          },
        ],
      };
    },
  });

  // ---------------- static panels ----------------
  graphic.push({ type: "rect", shape: { x: FRAME_X, y: 5, width: 1300, height: 461 }, style: { fill: "#FFFFF0" }, z: -5 });
  graphic.push({ type: "rect", shape: { x: FRAME_X, y: 499, width: 1300, height: 191 }, style: { fill: "#FFFFE0" }, z: -5 });
  graphic.push({ type: "rect", shape: { x: FRAME_X, y: 690, width: 1300, height: 686 }, style: { fill: "#F0F0FF" }, z: -5 });

  const stereoDecor = (cx: number, cy: number, R: number, labelSize: number) => {
    graphic.push({ type: "circle", shape: { cx, cy, r: R }, style: { fill: "none", stroke: "#111", lineWidth: 1.1 }, z: 1 });
    const tk = 8;
    [[cx - R - 2, cy, cx - R + tk, cy], [cx, cy - R - 2, cx, cy - R + tk], [cx + R + 2, cy, cx + R - tk, cy], [cx, cy + R + 2, cx, cy + R - tk]].forEach((l) => {
      graphic.push({ type: "line", shape: { x1: l[0], y1: l[1], x2: l[2], y2: l[3] }, style: { stroke: "#111", lineWidth: 1.1 }, z: 1 });
    });
    const pos = [[cx - R - 6, cy], [cx, cy - R - 10], [cx + R + 7, cy], [cx, cy + R + 11]];
    pos.forEach((p, k) => {
      if (p[0] < FRAME_X + 4 || p[0] > PAGE_W - 4) return; // outside the visible page
      graphic.push({
        type: "text", x: p[0], y: p[1], rotation: Math.PI / 2, z: 1,
        style: { text: stereoLabels[k], fontSize: labelSize, fontFamily: FONT, fill: "#555", align: "center", verticalAlign: "middle", textAlign: "center", textVerticalAlign: "middle" },
      });
    });
  };
  // stereonet grid restricted to the visible part of the page, keeping the same scale
  const addStereoGrid = (cx: number, cy: number, R: number, data: number[][], color: string, size: number) => {
    const visL = Math.max(cx - R, FRAME_X + 1);
    const visR = Math.min(cx + R, PAGE_W);
    if (visR - visL < 2) return;
    const gi = addGrid({ left: visL, top: cy - R, width: visR - visL, height: 2 * R },
      { type: "value", min: (visL - cx) / R, max: (visR - cx) / R, show: false },
      { type: "value", min: -1, max: 1, show: false });
    series.push({
      type: "scatter", xAxisIndex: gi, yAxisIndex: gi, data, symbolSize: size, silent: true, z: 3, clip: true,
      itemStyle: { color, borderColor: "#1a1a1a", borderWidth: 0.8, opacity: 1 },
    });
  };

  if (px) {
    let prevRight = STEREO_BOX_START;
    dzNames.forEach((_, i) => {
      const t0 = px(dzFrom[i]);
      const t1 = px(dzTo[i]);
      let L = (t0 + t1) / 2 - STEREO_BOX_W / 2;
      if (L < prevRight) L = prevRight;
      prevRight = L + STEREO_BOX_W;
      const R = L + STEREO_BOX_W;
      const cx = L + STEREO_BOX_W / 2;
      ROW_TOPS.forEach((top, r) => {
        const bottom = top + 216;
        const tipY = top + 228;
        graphic.push({
          type: "polygon", z: 0,
          shape: { points: [[L, top], [R, top], [R, bottom], [t1, tipY], [t0, tipY], [L, bottom]] },
          style: { fill: "#FFFFF0", stroke: "#222", lineWidth: 1.2 },
        });
        const cy = top + 108;
        stereoDecor(cx, cy, STEREO_R, 7);
        addStereoGrid(cx, cy, STEREO_R, r === 0 ? dzRedPoles[i] : dzBluePoles[i], r === 0 ? "#FF6A6A" : "#A0A2FF", 5.5);
      });
    });
    stereoDecor(BIG_CX, BIG_CY[0], BIG_R, 7);
    stereoDecor(BIG_CX, BIG_CY[1], BIG_R, 7);
    addStereoGrid(BIG_CX, BIG_CY[0], BIG_R, bigRedPoles, "#FF6A6A", 7);
    addStereoGrid(BIG_CX, BIG_CY[1], BIG_R, bigBluePoles, "#A0A2FF", 7.5);

    graphic.push({
      type: "text", x: 752, y: 1367, rotation: Math.PI / 2, z: 5,
      style: { text: ruLines.join("\n"), fontSize: 15, lineHeight: 17.3, fontFamily: FONT, fill: "#111", align: "left", verticalAlign: "top", textAlign: "left", textVerticalAlign: "top" },
    });
  }

  // frame lines
  const hLines = [[5, 2], [235, 2], [466, 2], [499, 2], [690, 1.5], [921, 1.5], [1151, 1.5], [1376, 2], [1431, 2], [1485, 2.5], [1539, 2.5], [1593, 2.5], [1624, 2], [1670, 1.5], [1717, 2.5], [1765, 2.5], [1808, 2.5]];
  hLines.forEach(([y, w]) => {
    graphic.push({ type: "line", shape: { x1: FRAME_X, y1: y, x2: 1300, y2: y }, style: { stroke: "#111", lineWidth: w }, z: 50 });
  });
  graphic.push({ type: "rect", shape: { x: 0, y: 0, width: FRAME_X - 1, height: 1852 }, style: { fill: "#fff" }, z: 60 });
  graphic.push({ type: "line", shape: { x1: FRAME_X, y1: 4, x2: FRAME_X, y2: 1809 }, style: { stroke: "#111", lineWidth: 2 }, z: 61 });

  return {
    animation: false,
    backgroundColor: "#ffffff",
    textStyle: { fontFamily: FONT },
    grid, xAxis, yAxis, series, graphic,
  };
}

export default function App() {
  const ref = useRef<HTMLDivElement>(null);
  useEffect(() => {
    if (!ref.current) return;
    const chart = echarts.init(ref.current, null, { renderer: "svg" });
    chart.setOption(buildOption(null));
    const px = (d: number) => (chart.convertToPixel({ gridIndex: 0 } as any, [d, 0]) as any)[0];
    chart.setOption(buildOption(px), { notMerge: true });
    return () => chart.dispose();
  }, []);
  return <div ref={ref} style={{ position: "absolute", left: 0, top: 0, width: 1288, height: 1852 }} />;
}
